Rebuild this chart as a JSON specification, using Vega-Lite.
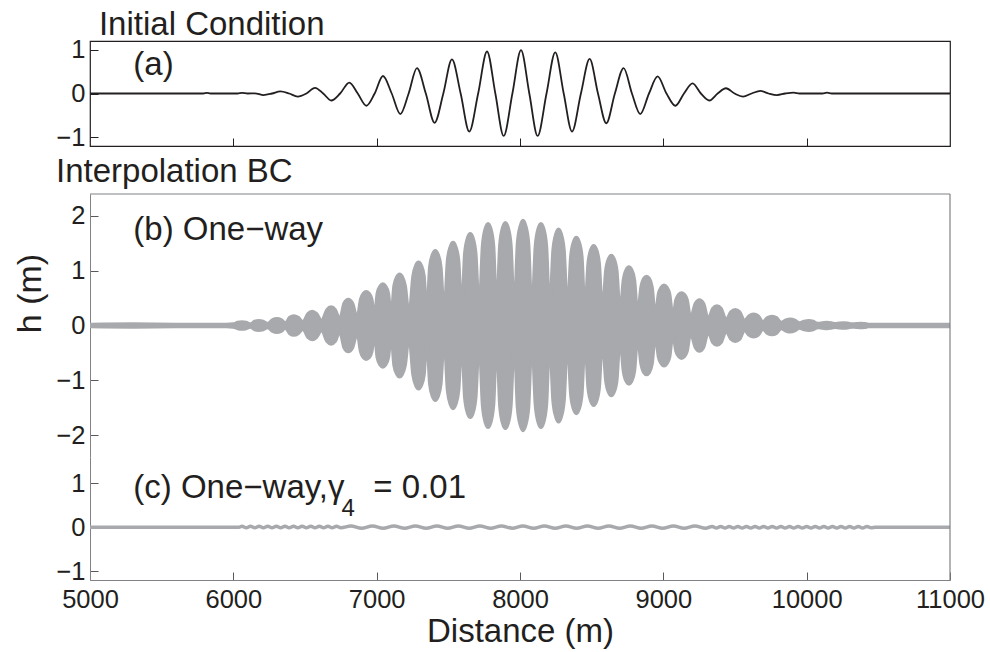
{
  "$schema": "https://vega.github.io/schema/vega-lite/v6.json",
  "background": "white",
  "padding": {"left": 13, "top": 8, "right": 5, "bottom": 5},
  "config": {
    "font": "Liberation Sans",
    "view": {"stroke": null},
    "axis": {"labelFont": "Liberation Sans", "labelFontSize": 25.5, "labelColor": "#231f20", "tickSize": -8, "grid": false, "labelPadding": 13, "labelFlush": false, "labelOverlap": false, "titleFont": "Liberation Sans", "titleFontSize": 33, "titleFontWeight": "normal", "titleColor": "#231f20"},
    "title": {"font": "Liberation Sans", "fontSize": 33, "fontWeight": "normal", "anchor": "start", "baseline": "alphabetic", "color": "#231f20"},
    "text": {"font": "Liberation Sans", "fontSize": 33, "color": "#231f20", "align": "left", "baseline": "alphabetic"}
  },
  "datasets": {
    "a": [
      {"x":5000,"y":0},{"x":5790,"y":0},{"x":5816,"y":0.015},{"x":5840,"y":0},{"x":6030,"y":0},{"x":6060,"y":0.015},{"x":6100,"y":0},{"x":6150,"y":0.005},{"x":6211,"y":-0.035},{"x":6270,"y":0},{"x":6328,"y":0.05},{"x":6390,"y":0},{"x":6449,"y":-0.07},{"x":6510,"y":0},{"x":6570,"y":0.13},{"x":6627,"y":0},{"x":6683,"y":-0.16},{"x":6745,"y":0},{"x":6809,"y":0.25},{"x":6868,"y":0},{"x":6928,"y":-0.28},{"x":6986,"y":0},{"x":7044,"y":0.40},{"x":7105,"y":0},{"x":7165,"y":-0.47},{"x":7223,"y":0},{"x":7281,"y":0.58},{"x":7343,"y":0},{"x":7404,"y":-0.67},{"x":7465,"y":0},{"x":7525,"y":0.78},{"x":7586,"y":0},{"x":7646,"y":-0.87},{"x":7708,"y":0},{"x":7770,"y":0.96},{"x":7828,"y":0},{"x":7886,"y":-0.97},{"x":7947,"y":0},{"x":8007,"y":0.99},{"x":8065,"y":0},{"x":8123,"y":-0.97},{"x":8185,"y":0},{"x":8246,"y":0.94},{"x":8305,"y":0},{"x":8363,"y":-0.87},{"x":8425,"y":0},{"x":8486,"y":0.79},{"x":8544,"y":0},{"x":8602,"y":-0.68},{"x":8662,"y":0},{"x":8723,"y":0.58},{"x":8781,"y":0},{"x":8839,"y":-0.47},{"x":8900,"y":0},{"x":8960,"y":0.39},{"x":9022,"y":0},{"x":9084,"y":-0.28},{"x":9144,"y":0},{"x":9204,"y":0.23},{"x":9262,"y":0},{"x":9321,"y":-0.16},{"x":9379,"y":0},{"x":9437,"y":0.12},{"x":9497,"y":0},{"x":9556,"y":-0.07},{"x":9616,"y":0},{"x":9677,"y":0.06},{"x":9735,"y":0},{"x":9793,"y":-0.035},{"x":9850,"y":0},{"x":9909,"y":0.02},{"x":9950,"y":0},{"x":10110,"y":0},{"x":10142,"y":0.02},{"x":10175,"y":0},{"x":11000,"y":0}
    ],
    "b": [
      {"x":5000,"hi":0.025,"lo":-0.025},{"x":5300,"hi":0.03,"lo":-0.03},{"x":5600,"hi":0.025,"lo":-0.025},{"x":5950,"hi":0.025,"lo":-0.025},{"x":6000,"hi":0.03,"lo":-0.03},
      {"x":6030,"hi":0.06,"lo":-0.06},{"x":6060,"hi":0.07,"lo":-0.07},{"x":6090,"hi":0.06,"lo":-0.06},{"x":6119,"hi":0.03,"lo":-0.03},
      {"x":6148,"hi":0.077,"lo":-0.077},{"x":6178,"hi":0.09,"lo":-0.09},{"x":6208,"hi":0.077,"lo":-0.077},{"x":6241,"hi":0.04,"lo":-0.04},
      {"x":6274,"hi":0.11,"lo":-0.11},{"x":6304,"hi":0.13,"lo":-0.13},{"x":6334,"hi":0.11,"lo":-0.11},{"x":6363,"hi":0.05,"lo":-0.05},
      {"x":6393,"hi":0.15,"lo":-0.15},{"x":6423,"hi":0.18,"lo":-0.18},{"x":6453,"hi":0.15,"lo":-0.15},{"x":6486,"hi":0.07,"lo":-0.07},
      {"x":6520,"hi":0.22,"lo":-0.22},{"x":6550,"hi":0.26,"lo":-0.26},{"x":6580,"hi":0.22,"lo":-0.22},{"x":6616,"hi":0.09,"lo":-0.09},
      {"x":6652,"hi":0.29,"lo":-0.29},{"x":6682,"hi":0.34,"lo":-0.34},{"x":6712,"hi":0.29,"lo":-0.29},{"x":6742,"hi":0.12,"lo":-0.12},
      {"x":6772,"hi":0.41,"lo":-0.41},{"x":6802,"hi":0.48,"lo":-0.48},{"x":6832,"hi":0.41,"lo":-0.41},{"x":6864,"hi":0.15,"lo":-0.15},
      {"x":6887,"hi":0.48,"lo":-0.48},{"x":6907,"hi":0.59,"lo":-0.59},{"x":6927,"hi":0.62,"lo":-0.62},{"x":6947,"hi":0.59,"lo":-0.59},{"x":6967,"hi":0.48,"lo":-0.48},{"x":6985,"hi":0.18,"lo":-0.18},
      {"x":7003,"hi":0.59,"lo":-0.59},{"x":7023,"hi":0.72,"lo":-0.72},{"x":7043,"hi":0.76,"lo":-0.76},{"x":7063,"hi":0.72,"lo":-0.72},{"x":7083,"hi":0.59,"lo":-0.59},{"x":7101,"hi":0.2,"lo":-0.2},
      {"x":7120,"hi":0.73,"lo":-0.73},{"x":7140,"hi":0.89,"lo":-0.89},{"x":7160,"hi":0.94,"lo":-0.94},{"x":7180,"hi":0.89,"lo":-0.89},{"x":7200,"hi":0.73,"lo":-0.73},{"x":7226,"hi":0.22,"lo":-0.22},
      {"x":7252,"hi":0.9,"lo":-0.9},{"x":7272,"hi":1.1,"lo":-1.1},{"x":7292,"hi":1.16,"lo":-1.16},{"x":7312,"hi":1.1,"lo":-1.1},{"x":7332,"hi":0.9,"lo":-0.9},{"x":7350,"hi":0.25,"lo":-0.25},
      {"x":7369,"hi":1.07,"lo":-1.07},{"x":7389,"hi":1.3,"lo":-1.3},{"x":7409,"hi":1.37,"lo":-1.37},{"x":7429,"hi":1.3,"lo":-1.3},{"x":7449,"hi":1.07,"lo":-1.07},{"x":7471,"hi":0.27,"lo":-0.27},
      {"x":7493,"hi":1.19,"lo":-1.19},{"x":7513,"hi":1.44,"lo":-1.44},{"x":7533,"hi":1.52,"lo":-1.52},{"x":7553,"hi":1.44,"lo":-1.44},{"x":7573,"hi":1.19,"lo":-1.19},{"x":7593,"hi":0.3,"lo":-0.3},
      {"x":7613,"hi":1.31,"lo":-1.31},{"x":7633,"hi":1.6,"lo":-1.6},{"x":7653,"hi":1.68,"lo":-1.68},{"x":7673,"hi":1.6,"lo":-1.6},{"x":7693,"hi":1.31,"lo":-1.31},{"x":7715,"hi":0.3,"lo":-0.3},
      {"x":7737,"hi":1.45,"lo":-1.45},{"x":7757,"hi":1.77,"lo":-1.77},{"x":7777,"hi":1.86,"lo":-1.86},{"x":7797,"hi":1.77,"lo":-1.77},{"x":7817,"hi":1.45,"lo":-1.45},{"x":7837,"hi":0.3,"lo":-0.3},
      {"x":7858,"hi":1.47,"lo":-1.47},{"x":7878,"hi":1.79,"lo":-1.79},{"x":7898,"hi":1.88,"lo":-1.88},{"x":7918,"hi":1.79,"lo":-1.79},{"x":7938,"hi":1.47,"lo":-1.47},{"x":7960,"hi":0.3,"lo":-0.3},
      {"x":7981,"hi":1.5,"lo":-1.5},{"x":8001,"hi":1.82,"lo":-1.82},{"x":8021,"hi":1.92,"lo":-1.92},{"x":8041,"hi":1.82,"lo":-1.82},{"x":8061,"hi":1.5,"lo":-1.5},{"x":8083,"hi":0.3,"lo":-0.3},
      {"x":8106,"hi":1.45,"lo":-1.45},{"x":8126,"hi":1.77,"lo":-1.77},{"x":8146,"hi":1.86,"lo":-1.86},{"x":8166,"hi":1.77,"lo":-1.77},{"x":8186,"hi":1.45,"lo":-1.45},{"x":8207,"hi":0.3,"lo":-0.3},
      {"x":8229,"hi":1.37,"lo":-1.37},{"x":8249,"hi":1.67,"lo":-1.67},{"x":8269,"hi":1.76,"lo":-1.76},{"x":8289,"hi":1.67,"lo":-1.67},{"x":8309,"hi":1.37,"lo":-1.37},{"x":8331,"hi":0.3,"lo":-0.3},
      {"x":8353,"hi":1.26,"lo":-1.26},{"x":8373,"hi":1.53,"lo":-1.53},{"x":8393,"hi":1.61,"lo":-1.61},{"x":8413,"hi":1.53,"lo":-1.53},{"x":8433,"hi":1.26,"lo":-1.26},{"x":8453,"hi":0.3,"lo":-0.3},
      {"x":8474,"hi":1.14,"lo":-1.14},{"x":8494,"hi":1.39,"lo":-1.39},{"x":8514,"hi":1.46,"lo":-1.46},{"x":8534,"hi":1.39,"lo":-1.39},{"x":8554,"hi":1.14,"lo":-1.14},{"x":8575,"hi":0.28,"lo":-0.28},
      {"x":8597,"hi":1.0,"lo":-1.0},{"x":8617,"hi":1.22,"lo":-1.22},{"x":8637,"hi":1.28,"lo":-1.28},{"x":8657,"hi":1.22,"lo":-1.22},{"x":8677,"hi":1.0,"lo":-1.0},{"x":8698,"hi":0.26,"lo":-0.26},
      {"x":8720,"hi":0.83,"lo":-0.83},{"x":8740,"hi":1.02,"lo":-1.02},{"x":8760,"hi":1.07,"lo":-1.07},{"x":8780,"hi":1.02,"lo":-1.02},{"x":8800,"hi":0.83,"lo":-0.83},{"x":8821,"hi":0.23,"lo":-0.23},
      {"x":8843,"hi":0.7,"lo":-0.7},{"x":8863,"hi":0.86,"lo":-0.86},{"x":8883,"hi":0.9,"lo":-0.9},{"x":8903,"hi":0.86,"lo":-0.86},{"x":8923,"hi":0.7,"lo":-0.7},{"x":8944,"hi":0.2,"lo":-0.2},
      {"x":8965,"hi":0.58,"lo":-0.58},{"x":8985,"hi":0.7,"lo":-0.7},{"x":9005,"hi":0.74,"lo":-0.74},{"x":9025,"hi":0.7,"lo":-0.7},{"x":9045,"hi":0.58,"lo":-0.58},{"x":9066,"hi":0.18,"lo":-0.18},
      {"x":9087,"hi":0.47,"lo":-0.47},{"x":9107,"hi":0.57,"lo":-0.57},{"x":9127,"hi":0.6,"lo":-0.6},{"x":9147,"hi":0.57,"lo":-0.57},{"x":9167,"hi":0.47,"lo":-0.47},{"x":9190,"hi":0.15,"lo":-0.15},
      {"x":9222,"hi":0.4,"lo":-0.4},{"x":9252,"hi":0.47,"lo":-0.47},{"x":9282,"hi":0.4,"lo":-0.4},{"x":9313,"hi":0.13,"lo":-0.13},
      {"x":9344,"hi":0.31,"lo":-0.31},{"x":9374,"hi":0.36,"lo":-0.36},{"x":9404,"hi":0.31,"lo":-0.31},{"x":9438,"hi":0.11,"lo":-0.11},
      {"x":9470,"hi":0.25,"lo":-0.25},{"x":9502,"hi":0.29,"lo":-0.29},{"x":9534,"hi":0.25,"lo":-0.25},{"x":9566,"hi":0.09,"lo":-0.09},
      {"x":9598,"hi":0.18,"lo":-0.18},{"x":9630,"hi":0.21,"lo":-0.21},{"x":9662,"hi":0.18,"lo":-0.18},{"x":9694,"hi":0.07,"lo":-0.07},
      {"x":9726,"hi":0.145,"lo":-0.145},{"x":9758,"hi":0.17,"lo":-0.17},{"x":9790,"hi":0.145,"lo":-0.145},{"x":9822,"hi":0.06,"lo":-0.06},
      {"x":9854,"hi":0.1,"lo":-0.1},{"x":9886,"hi":0.12,"lo":-0.12},{"x":9918,"hi":0.1,"lo":-0.1},{"x":9950,"hi":0.05,"lo":-0.05},
      {"x":9982,"hi":0.077,"lo":-0.077},{"x":10014,"hi":0.09,"lo":-0.09},{"x":10046,"hi":0.077,"lo":-0.077},{"x":10078,"hi":0.04,"lo":-0.04},
      {"x":10110,"hi":0.05,"lo":-0.05},{"x":10142,"hi":0.06,"lo":-0.06},{"x":10172,"hi":0.05,"lo":-0.05},{"x":10199,"hi":0.035,"lo":-0.035},
      {"x":10228,"hi":0.045,"lo":-0.045},{"x":10256,"hi":0.05,"lo":-0.05},{"x":10286,"hi":0.045,"lo":-0.045},{"x":10315,"hi":0.03,"lo":-0.03},
      {"x":10345,"hi":0.035,"lo":-0.035},{"x":10375,"hi":0.04,"lo":-0.04},{"x":10405,"hi":0.035,"lo":-0.035},{"x":10430,"hi":0.025,"lo":-0.025},
      {"x":11000,"hi":0.025,"lo":-0.025}
    ],
    "c": [
      {"x":5000,"y":0},{"x":6040,"y":0},
      {"x":6060,"y":0.025},{"x":6090,"y":-0.01},{"x":6120,"y":0.025},{"x":6150,"y":-0.01},{"x":6180,"y":0.025},{"x":6210,"y":-0.01},{"x":6240,"y":0.025},{"x":6270,"y":-0.01},{"x":6300,"y":0.025},{"x":6330,"y":-0.01},{"x":6360,"y":0.025},{"x":6390,"y":-0.01},{"x":6420,"y":0.025},{"x":6450,"y":-0.01},{"x":6480,"y":0.025},{"x":6510,"y":-0.01},{"x":6540,"y":0.025},{"x":6570,"y":-0.01},{"x":6600,"y":0.025},{"x":6630,"y":-0.01},{"x":6660,"y":0.025},{"x":6690,"y":-0.01},{"x":6720,"y":0.025},{"x":6750,"y":-0.01},
      {"x":6820,"y":0.03},{"x":6895,"y":-0.02},{"x":6970,"y":0.03},{"x":7045,"y":-0.02},{"x":7120,"y":0.03},{"x":7195,"y":-0.02},{"x":7270,"y":0.03},{"x":7345,"y":-0.02},{"x":7420,"y":0.03},{"x":7495,"y":-0.02},{"x":7570,"y":0.03},{"x":7645,"y":-0.02},{"x":7720,"y":0.03},{"x":7795,"y":-0.02},{"x":7870,"y":0.03},{"x":7945,"y":-0.02},{"x":8020,"y":0.03},{"x":8095,"y":-0.02},{"x":8170,"y":0.03},{"x":8245,"y":-0.02},{"x":8320,"y":0.03},{"x":8395,"y":-0.02},{"x":8470,"y":0.03},{"x":8545,"y":-0.02},{"x":8620,"y":0.03},{"x":8695,"y":-0.02},{"x":8770,"y":0.03},{"x":8845,"y":-0.02},{"x":8920,"y":0.03},{"x":8995,"y":-0.02},{"x":9070,"y":0.03},{"x":9145,"y":-0.02},{"x":9220,"y":0.03},{"x":9295,"y":-0.02},
      {"x":9340,"y":0.02},{"x":9370,"y":-0.015},{"x":9400,"y":0.02},{"x":9430,"y":-0.015},{"x":9460,"y":0.02},{"x":9490,"y":-0.015},{"x":9520,"y":0.02},{"x":9550,"y":-0.015},{"x":9580,"y":0.02},{"x":9610,"y":-0.015},{"x":9640,"y":0.02},{"x":9670,"y":-0.015},{"x":9700,"y":0.02},{"x":9730,"y":-0.015},{"x":9760,"y":0.02},{"x":9790,"y":-0.015},{"x":9820,"y":0.02},{"x":9850,"y":-0.015},{"x":9880,"y":0.02},{"x":9910,"y":-0.015},{"x":9940,"y":0.02},{"x":9970,"y":-0.015},{"x":10000,"y":0.02},{"x":10030,"y":-0.015},{"x":10060,"y":0.02},{"x":10090,"y":-0.015},{"x":10120,"y":0.02},{"x":10150,"y":-0.015},{"x":10180,"y":0.02},{"x":10210,"y":-0.015},{"x":10240,"y":0.02},{"x":10270,"y":-0.015},{"x":10300,"y":0.02},{"x":10330,"y":-0.015},{"x":10360,"y":0.02},{"x":10390,"y":-0.015},{"x":10420,"y":0.02},{"x":10450,"y":-0.01},
      {"x":10480,"y":0},{"x":11000,"y":0}
    ]
  },
  "vconcat": [
    {
      "width": 860, "height": 105,
      "view": {"stroke": "#231f20", "strokeWidth": 1.2},
      "title": {"text": "Initial Condition", "offset": -4, "dx": 43},
      "resolve": {"axis": {"x": "independent", "y": "independent"}},
      "layer": [
        {
          "data": {"name": "a"},
          "mark": {"type": "line", "color": "#231f20", "strokeWidth": 1.8, "interpolate": "monotone", "clip": true},
          "encoding": {
            "x": {"field": "x", "type": "quantitative", "scale": {"domain": [5000, 11000], "nice": false}, "axis": {"orient": "bottom", "values": [6000, 7000, 8000, 9000, 10000], "labels": false, "domain": false, "title": null, "tickColor": "#231f20"}},
            "y": {"field": "y", "type": "quantitative", "scale": {"domain": [-1.2, 1.2], "nice": false}, "axis": {"values": [-1, 0, 1], "domain": false, "title": null, "tickColor": "#231f20"}}
          }
        },
        {
          "data": {"values": [{"x": 5302, "y": 0.42, "t": "(a)"}]},
          "mark": {"type": "text"},
          "encoding": {
            "x": {"field": "x", "type": "quantitative", "axis": null},
            "y": {"field": "y", "type": "quantitative", "axis": null},
            "text": {"field": "t"}
          }
        }
      ]
    },
    {
      "spacing": 0,
      "bounds": "flush",
      "vconcat": [
        {
          "width": 860, "height": 263,
          "title": {"text": "Interpolation BC", "offset": 4, "dx": 43},
          "resolve": {"axis": {"x": "independent", "y": "independent"}},
          "layer": [
            {
              "data": {"name": "b"},
              "mark": {"type": "area", "color": "#a7a9ac", "stroke": "#a7a9ac", "strokeWidth": 3, "strokeJoin": "round", "interpolate": "monotone", "clip": true},
              "encoding": {
                "x": {"field": "x", "type": "quantitative", "scale": {"domain": [5000, 11000], "nice": false}, "axis": null},
                "y": {"field": "hi", "type": "quantitative", "scale": {"domain": [-2.4, 2.4], "nice": false}, "axis": {"values": [-2, -1, 0, 1, 2], "domainColor": "#808285", "tickColor": "#58595b", "title": "h (m)", "titleFontSize": 34, "titleAngle": -90, "titleAlign": "center", "titleBaseline": "alphabetic", "titleX": -50, "titleY": 99}},
                "y2": {"field": "lo"}
              }
            },
            {
              "data": {"values": [{"x": 5302, "y": 1.56, "t": "(b) One\u2212way"}]},
              "mark": {"type": "text"},
              "encoding": {
                "x": {"field": "x", "type": "quantitative", "axis": null},
                "y": {"field": "y", "type": "quantitative", "axis": null},
                "text": {"field": "t"}
              }
            },
            {
              "data": {"values": [{}]},
              "mark": {"type": "rule", "color": "#808285", "strokeWidth": 1.2},
              "encoding": {"y": {"datum": 2.4, "type": "quantitative", "axis": null}}
            },
            {
              "data": {"values": [{}]},
              "mark": {"type": "rule", "color": "#808285", "strokeWidth": 1.2},
              "encoding": {"x": {"datum": 11000, "type": "quantitative", "axis": null}}
            }
          ]
        },
        {
          "width": 860, "height": 123,
          "resolve": {"axis": {"x": "independent", "y": "independent"}},
          "layer": [
            {
              "data": {"name": "c"},
              "mark": {"type": "line", "color": "#a7a9ac", "strokeWidth": 3.5, "interpolate": "monotone", "clip": true},
              "encoding": {
                "x": {"field": "x", "type": "quantitative", "scale": {"domain": [5000, 11000], "nice": false}, "axis": {"values": [5000, 6000, 7000, 8000, 9000, 10000, 11000], "format": "d", "domainColor": "#808285", "tickColor": "#58595b", "labelPadding": 15, "title": "Distance (m)", "titleBaseline": "alphabetic", "titleY": 61}},
                "y": {"field": "y", "type": "quantitative", "scale": {"domain": [-1.2, 1.6], "nice": false}, "axis": {"values": [-1, 0, 1], "domainColor": "#808285", "tickColor": "#58595b", "title": null}}
              }
            },
            {
              "data": {"values": [{"x": 5302, "y": 0.67, "t": "(c) One\u2212way,\u03b3"}, {"x": 6977, "y": 0.67, "t": "= 0.01"}]},
              "mark": {"type": "text"},
              "encoding": {
                "x": {"field": "x", "type": "quantitative", "axis": null},
                "y": {"field": "y", "type": "quantitative", "axis": null},
                "text": {"field": "t"}
              }
            },
            {
              "data": {"values": [{"x": 6755, "y": 0.255, "t": "4"}]},
              "mark": {"type": "text", "fontSize": 24},
              "encoding": {
                "x": {"field": "x", "type": "quantitative", "axis": null},
                "y": {"field": "y", "type": "quantitative", "axis": null},
                "text": {"field": "t"}
              }
            },
            {
              "data": {"values": [{}]},
              "mark": {"type": "rule", "color": "#808285", "strokeWidth": 1.2},
              "encoding": {"x": {"datum": 11000, "type": "quantitative", "axis": null}}
            }
          ]
        }
      ]
    }
  ],
  "spacing": 4
}
